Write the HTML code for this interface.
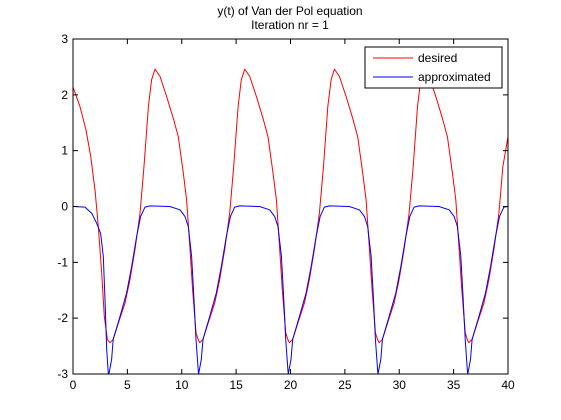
<!DOCTYPE html>
<html><head><meta charset="utf-8"><style>
body{margin:0;background:#fff;}
svg{display:block;font-family:"Liberation Sans",Arial,sans-serif;}
</style></head><body>
<svg id="chart" width="561" height="420" viewBox="0 0 561 420">
<rect width="561" height="420" fill="#fff"/>
<text x="290" y="15" font-size="12" text-anchor="middle">y(t) of Van der Pol equation</text>
<text x="290" y="29" font-size="12" text-anchor="middle">Iteration nr = 1</text>
<defs><clipPath id="pc"><rect x="73" y="39" width="435" height="335"/></clipPath></defs>
<g id="series" clip-path="url(#pc)"></g>
<rect x="73" y="39" width="435" height="335" fill="none" stroke="#000" stroke-width="1"/>
<g id="ticks"></g>
<g>
<rect x="365" y="47" width="137" height="41" fill="#fff" stroke="#000"/>
<line x1="373" y1="58" x2="413" y2="58" stroke="#f00"/>
<text x="418" y="62" font-size="12">desired</text>
<line x1="373" y1="77" x2="413" y2="77" stroke="#00f"/>
<text x="418" y="81" font-size="12">approximated</text>
</g>
</svg>
<script>
const xTicks=[0,5,10,15,20,25,30,35,40];
const yTicks=[-3,-2,-1,0,1,2,3];
const desiredT=[0,0.64,1.2,1.63,2.02,2.33,2.64,2.88,3.16,
3.4,3.7,4.17,4.78,5.24,5.7,6.16,6.53,6.93,7.23,7.54,8.0,8.61,9.22,9.68,10.14,10.45,10.7,11.0,11.31,11.5,
11.65,11.95,12.42,13.03,13.49,13.95,14.41,14.78,15.18,15.48,15.79,16.25,16.86,17.47,17.93,18.39,18.7,18.95,19.25,19.56,19.75,
19.9,20.2,20.67,21.28,21.74,22.2,22.66,23.03,23.43,23.73,24.04,24.5,25.11,25.72,26.18,26.64,26.95,27.2,27.5,27.81,28.0,
28.15,28.45,28.92,29.53,29.99,30.45,30.91,31.28,31.68,31.98,32.29,32.75,33.36,33.97,34.43,34.89,35.2,35.45,35.75,36.06,36.25,
36.4,36.7,37.17,37.78,38.24,38.7,39.16,39.53,40];
const desiredY=[2.14,1.79,1.37,0.9,0.3,-0.36,-1.19,-1.97,-2.38,
-2.44,-2.38,-2.09,-1.73,-1.31,-0.77,-0.12,0.72,1.79,2.27,2.46,2.33,1.97,1.58,1.25,0.6,0.12,-0.6,-1.49,-2.26,-2.38,
-2.44,-2.38,-2.09,-1.73,-1.31,-0.77,-0.12,0.72,1.79,2.27,2.46,2.33,1.97,1.58,1.25,0.6,0.12,-0.6,-1.49,-2.26,-2.38,
-2.44,-2.38,-2.09,-1.73,-1.31,-0.77,-0.12,0.72,1.79,2.27,2.46,2.33,1.97,1.58,1.25,0.6,0.12,-0.6,-1.49,-2.26,-2.38,
-2.44,-2.38,-2.09,-1.73,-1.31,-0.77,-0.12,0.72,1.79,2.27,2.46,2.33,1.97,1.58,1.25,0.6,0.12,-0.6,-1.49,-2.26,-2.38,
-2.44,-2.38,-2.09,-1.73,-1.31,-0.77,-0.12,0.72,1.25];
const approxT=[0,1.1,1.72,2.18,2.54,2.79,2.94,3.1,3.25,
3.3,3.55,3.7,4.32,4.93,5.4,5.85,6.22,6.62,7.08,8.9,9.84,10.3,10.6,10.91,11.13,11.31,11.52,
11.55,11.8,11.95,12.57,13.18,13.65,14.1,14.47,14.87,15.33,17.15,18.09,18.55,18.85,19.16,19.38,19.56,19.77,
19.8,20.05,20.2,20.82,21.43,21.9,22.35,22.72,23.12,23.58,25.4,26.34,26.8,27.1,27.41,27.63,27.81,28.02,
28.05,28.3,28.45,29.07,29.68,30.15,30.6,30.97,31.37,31.83,33.65,34.59,35.05,35.35,35.66,35.88,36.06,36.27,
36.3,36.55,36.7,37.32,37.93,38.4,38.85,39.22,39.62,40];
const approxY=[0,-0.01,-0.12,-0.3,-0.48,-0.89,-1.67,-2.56,-3,
-3,-2.74,-2.38,-1.97,-1.55,-1.07,-0.54,-0.18,-0.01,0.01,0,-0.06,-0.18,-0.36,-0.89,-1.67,-2.38,-2.95,
-3,-2.74,-2.38,-1.97,-1.55,-1.07,-0.54,-0.18,-0.01,0.01,0,-0.06,-0.18,-0.36,-0.89,-1.67,-2.38,-2.95,
-3,-2.74,-2.38,-1.97,-1.55,-1.07,-0.54,-0.18,-0.01,0.01,0,-0.06,-0.18,-0.36,-0.89,-1.67,-2.38,-2.95,
-3,-2.74,-2.38,-1.97,-1.55,-1.07,-0.54,-0.18,-0.01,0.01,0,-0.06,-0.18,-0.36,-0.89,-1.67,-2.38,-2.95,
-3,-2.74,-2.38,-1.97,-1.55,-1.07,-0.54,-0.18,-0.01,0];

const L=73,R=508,T=39,B=374;
const xs=v=>L+(v-0)/(40-0)*(R-L);
const ys=v=>B-(v+3)/6*(B-T);
const NS='http://www.w3.org/2000/svg';
const tg=document.getElementById('ticks');
xTicks.forEach(v=>{
  const x=xs(v);
  const p=document.createElementNS(NS,'path');
  p.setAttribute('d',`M${x},${B}v-5M${x},${T}v5`);
  p.setAttribute('stroke','#000');
  
  
  tg.appendChild(p);
  const t=document.createElementNS(NS,'text');
  t.setAttribute('x',x);t.setAttribute('y',B+15);
  t.setAttribute('font-size','12');t.setAttribute('text-anchor','middle');
  
  
  t.textContent=v;tg.appendChild(t);
});
yTicks.forEach(v=>{
  const y=ys(v);
  const p=document.createElementNS(NS,'path');
  p.setAttribute('d',`M${L},${y}h5M${R},${y}h-5`);
  p.setAttribute('stroke','#000');
  
  
  tg.appendChild(p);
  const t=document.createElementNS(NS,'text');
  t.setAttribute('x',L-5);t.setAttribute('y',y+4);
  t.setAttribute('font-size','12');t.setAttribute('text-anchor','end');
  
  
  t.textContent=v;tg.appendChild(t);
});
const sg=document.getElementById('series');
function line(tx,ty,color,name){
  const p=document.createElementNS(NS,'polyline');
  p.setAttribute('points',tx.map((t,i)=>xs(t).toFixed(1)+','+ys(ty[i]).toFixed(1)).join(' '));
  p.setAttribute('fill','none');p.setAttribute('stroke',color);p.setAttribute('stroke-width','1');
  p.setAttribute('stroke-linejoin','round');
  
  
  sg.appendChild(p);
}
line(desiredT,desiredY,'#f00','desired-line');
line(approxT,approxY,'#00f','approximated-line');
</script>
</body></html>
